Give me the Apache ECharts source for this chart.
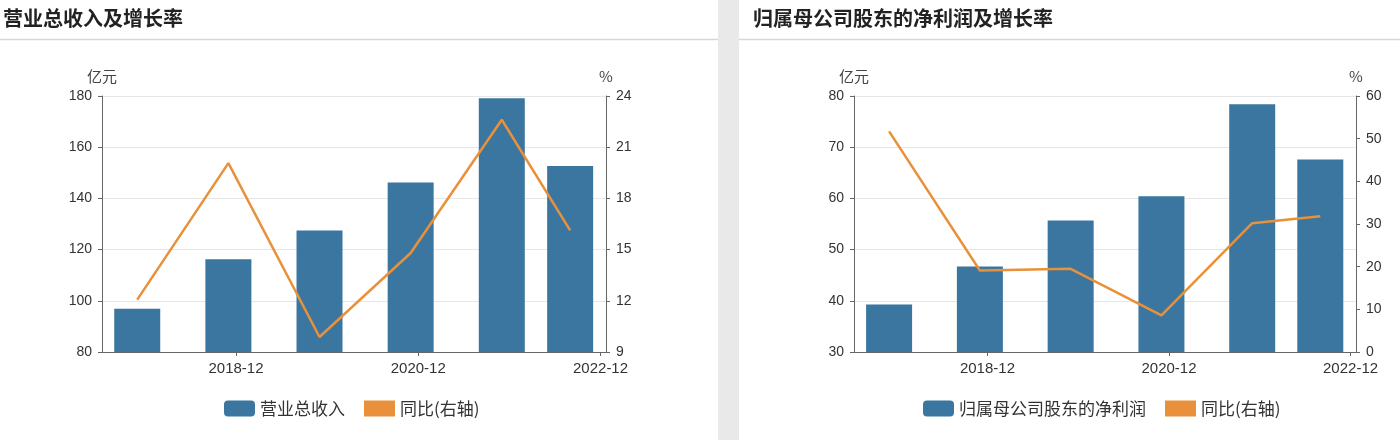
<!DOCTYPE html>
<html>
<head>
<meta charset="utf-8">
<script src="https://cdn.jsdelivr.net/npm/echarts@6/dist/echarts.min.js"></script>
<style>
html,body{margin:0;padding:0;background:#fff;}
#chart{width:1400px;height:440px;}
</style>
</head>
<body>
<div id="chart"></div>
<script>
// ---- data ----
const periods = ['2017-12', '2018-12', '2019-12', '2020-12', '2021-12', '2022-09'];
const xTickLabels = ['2018-12', '2020-12', '2022-12'];
const revenue = [96.9, 116.2, 127.5, 146.2, 179.1, 152.7];       // 亿元
const revenueYoY = [12.07, 20.07, 9.88, 14.8, 22.61, 16.13];     // %
const netProfit = [39.3, 46.7, 55.7, 60.4, 78.4, 67.6];          // 亿元
const netProfitYoY = [51.7, 19.1, 19.5, 8.6, 30.2, 31.8];        // %
const titleLeft = '营业总收入及增长率';
const titleRight = '归属母公司股东的净利润及增长率';
const nameRevenue = '营业总收入';
const nameProfit = '归属母公司股东的净利润';
const nameYoY = '同比(右轴)';

// ---- helpers ----
// data points sit at the start of their month, tick labels mark the end of the month
function monthStart(s) { const [y, m] = s.split('-').map(Number); return y + (m - 1) / 12; }
function monthEnd(s) { const [y, m] = s.split('-').map(Number); return y + m / 12; }
const tickValues = xTickLabels.map(monthEnd);
function tickFmt(v) {
  for (let i = 0; i < tickValues.length; i++) if (Math.abs(tickValues[i] - v) < 1e-6) return xTickLabels[i];
  return '';
}
const pair = (vals) => vals.map((v, i) => [monthStart(periods[i]), v]);

const BLUE = '#3b76a0';
const ORANGE = '#e8913a';
const AXIS = '#666';
const TXT = '#333';
const LATIN = '"Liberation Sans", Arial, "Noto Sans CJK SC", sans-serif';
const CJK = '"Noto Sans CJK SC", "Liberation Sans", sans-serif';

function xAxis(gridIndex) {
  return {
    type: 'value', gridIndex, min: 2017.53, max: 2023.06,
    axisLine: { show: true, lineStyle: { color: AXIS, width: 1 } },
    axisTick: { show: true, customValues: tickValues, length: 4, lineStyle: { color: AXIS } },
    axisLabel: { customValues: tickValues, formatter: tickFmt, color: TXT, fontSize: 15, margin: 9, fontFamily: LATIN },
    splitLine: { show: false }
  };
}
function yAxis(gridIndex, position, min, max, interval, name, split) {
  return {
    type: 'value', gridIndex, position, min, max, interval,
    name, nameLocation: 'end', nameGap: 12,
    nameTextStyle: { color: '#444', fontSize: 15, fontFamily: CJK, align: 'center' },
    axisLine: { show: true, lineStyle: { color: AXIS, width: 1 } },
    axisTick: { show: true, length: 4, lineStyle: { color: AXIS } },
    axisLabel: { color: TXT, fontSize: 14, margin: 10, fontFamily: LATIN },
    splitLine: { show: split, lineStyle: { color: '#e6e6e6', width: 1 } }
  };
}

const chart = echarts.init(document.getElementById('chart'), null, { renderer: 'canvas' });
chart.setOption({
  animation: false,
  backgroundColor: '#fff',
  graphic: [
    { type: 'rect', shape: { x: 718, y: 0, width: 21, height: 440 }, style: { fill: '#e9e9e9' }, z: -10 },
    { type: 'line', shape: { x1: 0, y1: 39.5, x2: 718, y2: 39.5 }, style: { stroke: '#d6d6d6', lineWidth: 1.5 } },
    { type: 'line', shape: { x1: 739, y1: 39.5, x2: 1400, y2: 39.5 }, style: { stroke: '#d6d6d6', lineWidth: 1.5 } }
  ],
  title: [
    { text: titleLeft, left: 3, top: 8, padding: 0, textStyle: { fontSize: 20, fontWeight: 'bold', color: '#222', fontFamily: CJK } },
    { text: titleRight, left: 753, top: 8, padding: 0, textStyle: { fontSize: 20, fontWeight: 'bold', color: '#222', fontFamily: CJK } }
  ],
  legend: [
    {
      left: 219, top: 395, itemWidth: 31, itemHeight: 16, itemGap: 19,
      textStyle: { fontSize: 17, color: TXT, fontFamily: CJK },
      data: [{ name: nameRevenue, icon: 'roundRect' }, { name: nameYoY, icon: 'rect' }]
    },
    {
      left: 918, top: 395, itemWidth: 31, itemHeight: 16, itemGap: 19,
      textStyle: { fontSize: 17, color: TXT, fontFamily: CJK },
      data: [{ name: nameProfit, icon: 'roundRect' }, { name: nameYoY, icon: 'rect' }]
    }
  ],
  grid: [
    { left: 102, top: 96, width: 504, height: 256 },
    { left: 854, top: 96, width: 502, height: 256 }
  ],
  xAxis: [xAxis(0), xAxis(1)],
  yAxis: [
    yAxis(0, 'left', 80, 180, 20, '亿元', true),
    yAxis(0, 'right', 9, 24, 3, '%', false),
    yAxis(1, 'left', 30, 80, 10, '亿元', true),
    yAxis(1, 'right', 0, 60, 10, '%', false)
  ],
  series: [
    { name: nameRevenue, type: 'bar', xAxisIndex: 0, yAxisIndex: 0, barWidth: 46, itemStyle: { color: BLUE }, data: pair(revenue) },
    { name: nameYoY, type: 'line', xAxisIndex: 0, yAxisIndex: 1, showSymbol: false, lineStyle: { color: ORANGE, width: 2.5 }, itemStyle: { color: ORANGE }, data: pair(revenueYoY), z: 3 },
    { name: nameProfit, type: 'bar', xAxisIndex: 1, yAxisIndex: 2, barWidth: 46, itemStyle: { color: BLUE }, data: pair(netProfit) },
    { name: nameYoY, type: 'line', xAxisIndex: 1, yAxisIndex: 3, showSymbol: false, lineStyle: { color: ORANGE, width: 2.5 }, itemStyle: { color: ORANGE }, data: pair(netProfitYoY), z: 3 }
  ]
});
</script>
</body>
</html>
